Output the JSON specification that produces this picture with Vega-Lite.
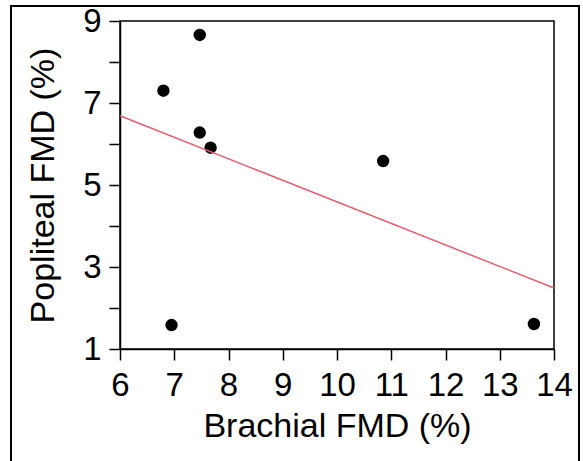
{
  "$schema": "https://vega.github.io/schema/vega-lite/v6.json",
  "autosize": {"type": "none"},
  "width": 434,
  "height": 328,
  "padding": {"left": 120, "top": 21, "right": 29, "bottom": 112},
  "background": "white",
  "config": {
    "font": "Liberation Sans",
    "view": {"stroke": "black", "strokeWidth": 1.5},
    "axis": {
      "grid": false,
      "domainColor": "black",
      "domainWidth": 1.5,
      "tickColor": "black",
      "tickWidth": 1.5,
      "tickSize": 11,
      "labelFont": "Liberation Sans",
      "labelFontSize": 33,
      "labelColor": "black",
      "labelOverlap": false,
      "labelFlush": false,
      "titleFont": "Liberation Sans",
      "titleFontSize": 34,
      "titleFontWeight": "normal",
      "titleColor": "black"
    }
  },
  "data": {
    "values": [
      {"Brachial": 7.47, "Popliteal": 8.66},
      {"Brachial": 6.80, "Popliteal": 7.30},
      {"Brachial": 7.47, "Popliteal": 6.28},
      {"Brachial": 7.67, "Popliteal": 5.91},
      {"Brachial": 6.95, "Popliteal": 1.585},
      {"Brachial": 10.85, "Popliteal": 5.585},
      {"Brachial": 13.63, "Popliteal": 1.61}
    ]
  },
  "layer": [
    {
      "mark": {"type": "rect", "fill": null, "stroke": "black", "strokeWidth": 2, "clip": false},
      "data": {"values": [{"x1": 3.991, "x2": 14.461, "y1": 9.366, "y2": -1.95}]},
      "encoding": {
        "x": {"field": "x1", "type": "quantitative"},
        "x2": {"field": "x2"},
        "y": {"field": "y1", "type": "quantitative"},
        "y2": {"field": "y2"}
      }
    },
    {
      "mark": {"type": "circle", "size": 154, "color": "black", "opacity": 1},
      "encoding": {
        "x": {
          "field": "Brachial", "type": "quantitative",
          "scale": {"domain": [6, 14], "nice": false, "zero": false},
          "axis": {"title": "Brachial FMD (%)", "values": [6,7,8,9,10,11,12,13,14], "labelPadding": 9, "titlePadding": 7}
        },
        "y": {
          "field": "Popliteal", "type": "quantitative",
          "scale": {"domain": [1, 9], "nice": false, "zero": false},
          "axis": {"title": "Popliteal FMD (%)", "values": [1,2,3,4,5,6,7,8,9], "labelExpr": "datum.value % 2 == 1 ? datum.label : ''", "labelPadding": 8, "titlePadding": 22}
        }
      }
    },
    {
      "transform": [{"regression": "Popliteal", "on": "Brachial", "extent": [6, 14]}],
      "mark": {"type": "line", "color": "#e06070", "strokeWidth": 1.5},
      "encoding": {
        "x": {"field": "Brachial", "type": "quantitative"},
        "y": {"field": "Popliteal", "type": "quantitative"}
      }
    }
  ]
}
